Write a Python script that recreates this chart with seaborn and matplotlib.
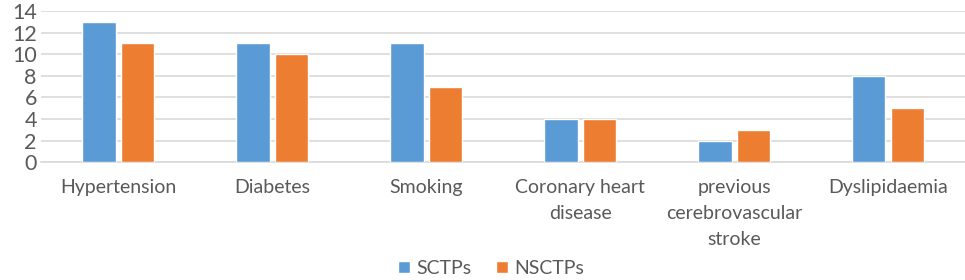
import pandas as pd
import matplotlib
matplotlib.use("Agg")
import matplotlib.pyplot as plt
import seaborn as sns

# 数据
categories = ["Hypertension", "Diabetes", "Smoking", "Coronary heart\ndisease",
              "previous\ncerebrovascular\nstroke", "Dyslipidaemia"]
sctps = [13, 11, 11, 4, 2, 8]
nsctps = [11, 10, 7, 4, 3, 5]
series = ["SCTPs", "NSCTPs"]

df = pd.DataFrame({
    "category": categories * 2,
    "value": sctps + nsctps,
    "group": [series[0]] * len(categories) + [series[1]] * len(categories),
})

sns.set_style("white")
plt.rcParams['font.family'] = ['Lato', 'DejaVu Sans']

fig = plt.figure(figsize=(9.65, 2.8), dpi=100)
ax = fig.add_axes([0.0425, 0.421, 0.9575, 0.54])

sns.barplot(data=df, x="category", y="value", hue="group",
            palette=["#5B9BD5", "#ED7D31"], saturation=1, width=0.5, gap=0.13,
            ax=ax, zorder=3)

ax.set_ylim(0, 14)
ax.set_yticks(range(0, 15, 2))
ax.set_xlim(-0.5, len(categories) - 0.5)
ax.yaxis.grid(True, color="#D9D9D9", linewidth=1.2, zorder=0)
ax.set_axisbelow(True)
for s in ["top", "right", "left"]:
    ax.spines[s].set_visible(False)
ax.spines["bottom"].set_color("#D9D9D9")
ax.spines["bottom"].set_linewidth(1.2)
ax.tick_params(axis="x", length=0, labelsize=14, colors="#595959", pad=12)
ax.tick_params(axis="y", length=0, labelsize=15.5, colors="#595959", pad=3)
for t in ax.get_xticklabels():
    t.set_linespacing(1.65)
ax.set_xlabel("")
ax.set_ylabel("")

handles, labels = ax.get_legend_handles_labels()
ax.legend(handles, labels, loc="lower center", bbox_to_anchor=(0.487, -0.81),
          ncol=2, frameon=False, fontsize=14, handlelength=0.6, handleheight=0.6,
          handletextpad=0.3, columnspacing=1.3, labelcolor="#595959",
          borderaxespad=0)

fig.savefig("out.png", dpi=100)
